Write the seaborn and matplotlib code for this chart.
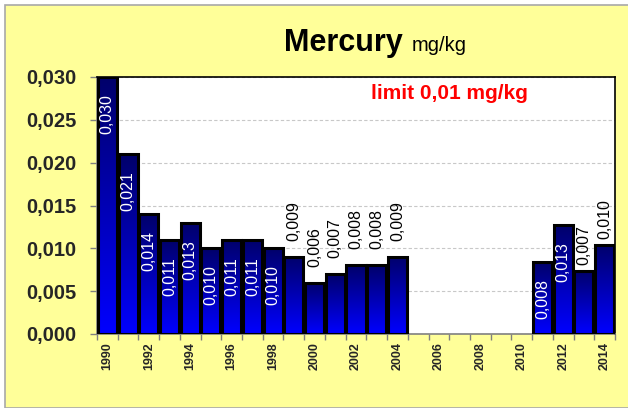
import numpy as np
import pandas as pd
import matplotlib
matplotlib.use("Agg")
import matplotlib.pyplot as plt
import seaborn as sns
from matplotlib.colors import LinearSegmentedColormap
from matplotlib.patches import Rectangle
from matplotlib.ticker import FuncFormatter, MultipleLocator, FixedLocator

# Mercury content per year (mg/kg); 2005-2010 have no measurements
years = [1990, 1991, 1992, 1993, 1994, 1995, 1996, 1997, 1998, 1999,
         2000, 2001, 2002, 2003, 2004, 2011, 2012, 2013, 2014]
mercury = [0.030, 0.021, 0.014, 0.011, 0.013, 0.010, 0.011, 0.011, 0.010, 0.009,
           0.006, 0.007, 0.008, 0.008, 0.009, 0.0084, 0.0127, 0.0074, 0.0104]
all_years = list(range(1990, 2015))
tick_years = list(range(1990, 2015, 2))

# label placement: negative = inside the bar top, positive = above it (pixels)
label_offset = [-17, -17, -17, -17, -17, -17, -17, -17, -17,
                16, 16, 16, 16, 16, 16, -17, -17, 6, 6]

sns.set_theme(style="white")
plt.rcParams["font.family"] = ["Liberation Sans", "DejaVu Sans"]

fig = plt.figure(figsize=(6.28, 4.08), dpi=100)
fig.patch.set_facecolor("white")
fig.patches.append(Rectangle((5 / 628, 0), 1, (408 - 5) / 408, transform=fig.transFigure,
                             facecolor="#FFFF99", edgecolor="#A8A8A8", lw=1.2, zorder=-10))

ax = fig.add_axes([97 / 628, (408 - 334) / 408, (615 - 97) / 628, (334 - 77) / 408])
ax.set_facecolor("white")

df = pd.DataFrame({"year": [str(y) for y in years], "mercury": mercury})
order = [str(y) for y in all_years]
sns.barplot(data=df, x="year", y="mercury", order=order, ax=ax, width=0.92,
            color="#0000FF", saturation=1, edgecolor="black", linewidth=2.2, zorder=3)

# vertical gradient fill: dark navy at the top, bright blue at the base
cmap = LinearSegmentedColormap.from_list("navy_blue", ["#00006A", "#0000FF"])
grad = np.linspace(0, 1, 256).reshape(-1, 1)
for p in ax.patches:
    x0, w, h = p.get_x(), p.get_width(), p.get_height()
    if not np.isfinite(h) or h <= 0:
        continue
    im = ax.imshow(grad, extent=[x0, x0 + w, 0, h], aspect="auto", cmap=cmap,
                   zorder=2.5, interpolation="bicubic")
    im.set_clip_path(p)
    p.set_facecolor("none")

ax.set_xlim(-0.5, len(all_years) - 0.5)
ax.set_ylim(0, 0.030)
ax.set_xlabel("")
ax.set_ylabel("")

# value labels, rotated
for yr, v, off in zip(years, mercury, label_offset):
    xi = all_years.index(yr)
    txt = f"{v:.3f}".replace(".", ",")
    inside = off < 0
    ax.annotate(txt, xy=(xi, v), xytext=(0, off * 0.72), textcoords="offset points",
                rotation=90, ha="center", va="top" if inside else "bottom",
                color="white" if inside else "black", fontsize=11.5, zorder=5)

# gridlines
ax.yaxis.set_major_locator(MultipleLocator(0.005))
ax.grid(axis="y", color="#C8C8C8", linestyle=(0, (3, 2)), linewidth=0.8, zorder=0)
ax.set_axisbelow(True)
ax.yaxis.set_major_formatter(FuncFormatter(lambda v, _: f"{v:.3f}".replace(".", ",")))
ax.tick_params(axis="y", which="major", left=True, length=5, width=1, color="#808080",
               pad=9.5, labelsize=14.5)
for lab in ax.get_yticklabels():
    lab.set_fontweight("bold")

# x axis: labels every second year, ticks at slot boundaries
ax.xaxis.set_major_locator(FixedLocator([all_years.index(y) for y in tick_years]))
ax.set_xticklabels([str(y) for y in tick_years], rotation=90, fontsize=9, fontweight="bold")
ax.xaxis.set_minor_locator(FixedLocator(np.arange(-0.5, len(all_years), 1.0)))
ax.tick_params(axis="x", which="major", bottom=False, length=0, pad=6)
ax.tick_params(axis="x", which="minor", bottom=True, length=4, width=1, color="#808080")

for side in ["top", "right"]:
    ax.spines[side].set_color("black")
    ax.spines[side].set_linewidth(1.2)
for side in ["left", "bottom"]:
    ax.spines[side].set_color("#808080")
    ax.spines[side].set_linewidth(1.2)

ax.text(0.68, 0.935, "limit 0,01 mg/kg", transform=ax.transAxes, ha="center", va="center",
        color="#FF0000", fontsize=15, fontweight="bold")

fig.text(403 / 628, 1 - 51 / 408, "Mercury", ha="right", va="baseline",
         fontsize=22, fontweight="bold", color="black")
fig.text(412 / 628, 1 - 51 / 408, "mg/kg", ha="left", va="baseline",
         fontsize=14.5, color="black")

fig.savefig("out.png", dpi=100, facecolor=fig.get_facecolor())
